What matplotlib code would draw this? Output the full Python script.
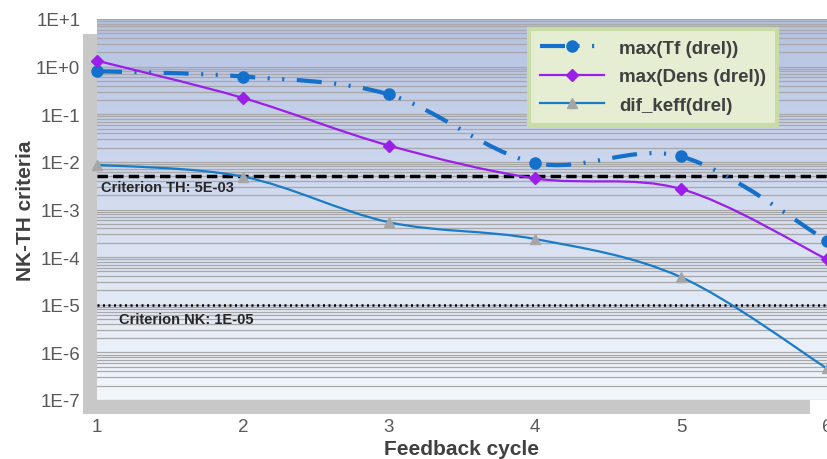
import numpy as np
import matplotlib
matplotlib.use('Agg')
import matplotlib.pyplot as plt
from matplotlib.path import Path
from matplotlib.patches import PathPatch, Rectangle
from matplotlib.lines import Line2D
from matplotlib.ticker import FuncFormatter, LogLocator

cycles = [1, 2, 3, 4, 5, 6]
tf_drel = [0.8, 0.62, 0.26, 0.0095, 0.013, 2.2e-4]
dens_drel = [1.33, 0.22, 0.022, 0.0045, 0.0027, 9e-5]
keff_drel = [0.0087, 0.0049, 5.4e-4, 2.4e-4, 3.8e-5, 4.6e-7]
crit_th = 5e-3
crit_nk = 1e-5

plt.rcParams['font.family'] = ['Liberation Sans', 'DejaVu Sans']


def SmoothPath(xs, ys):
    # bezier curve through the points, built in log space (like excel smoothing)
    lx = np.array(xs, dtype=float)
    ly = np.log10(np.array(ys, dtype=float))
    n = len(lx)
    verts = [(lx[0], ly[0])]
    codes = [Path.MOVETO]
    for i in range(n - 1):
        p0 = (lx[max(i - 1, 0)], ly[max(i - 1, 0)])
        p1 = (lx[i], ly[i])
        p2 = (lx[i + 1], ly[i + 1])
        p3 = (lx[min(i + 2, n - 1)], ly[min(i + 2, n - 1)])
        c1 = (p1[0] + (p2[0] - p0[0]) / 6, p1[1] + (p2[1] - p0[1]) / 6)
        c2 = (p2[0] - (p3[0] - p1[0]) / 6, p2[1] - (p3[1] - p1[1]) / 6)
        verts += [c1, c2, p2]
        codes += [Path.CURVE4] * 3
    verts = [(v[0], 10 ** v[1]) for v in verts]
    return Path(verts, codes)


fig = plt.figure(figsize=(8.27, 4.6), dpi=100)
W, H = 827, 460
left, right, top, bottom = 97, 827, 20, 401
pos = [left / W, 1 - bottom / H, (right - left) / W, (bottom - top) / H]

# drop shadow behind the plot area
shadow = fig.add_axes([83 / W, 1 - 415 / H, (810 - 83) / W, (415 - 35) / H], zorder=-2)
shadow.axis('off')
shadow.add_patch(Rectangle((0, 0), 1, 1, transform=shadow.transAxes, color='#C8C8C8'))

bg = fig.add_axes(pos, zorder=0)
grad = np.linspace(0, 1, 256).reshape(-1, 1, 1)
top_c = np.array([0.71, 0.76, 0.89])
bot_c = np.array([0.95, 0.97, 0.99])
img = top_c + grad * (bot_c - top_c)
bg.imshow(img, aspect='auto', extent=[0, 1, 0, 1])
bg.axis('off')

ax = fig.add_axes(pos, zorder=1)
ax.patch.set_alpha(0)
ax.set_yscale('log')
ax.set_xlim(1, 6)
ax.set_ylim(1e-7, 10)

ax.yaxis.set_major_locator(LogLocator(base=10, numticks=20))
ax.yaxis.set_minor_locator(LogLocator(base=10, subs=np.arange(2, 10), numticks=20))
ax.grid(True, which='both', axis='y', color='#A8A8A8', lw=0.9)
ax.set_axisbelow(True)
for s in ax.spines.values():
    s.set_visible(False)


def fmt(v, p):
    e = int(round(np.log10(v)))
    return '1E+%d' % e if e >= 0 else '1E%d' % e


ax.yaxis.set_major_formatter(FuncFormatter(fmt))
ax.set_xticks(cycles)
ax.tick_params(axis='both', which='both', length=0, labelsize=13.5, labelcolor='#595959')
ax.tick_params(axis='x', pad=13)
ax.tick_params(axis='y', pad=12)

ax.axhline(crit_th, color='black', lw=2.5, ls=(0, (3, 1.5)), zorder=3)
ax.axhline(crit_nk, color='black', lw=1.8, ls=(0, (0.8, 1.4)), zorder=3)
ax.text(1.03, crit_th * 0.58, 'Criterion TH: 5E-03', fontsize=10.5, fontweight='bold',
        color='#262626', family=['Liberation Sans Narrow', 'Liberation Sans'], va='center')
ax.text(1.15, crit_nk * 0.5, 'Criterion NK: 1E-05', fontsize=10.5, fontweight='bold',
        color='#262626', family=['Liberation Sans Narrow', 'Liberation Sans'], va='center')

tf_col = '#1570CC'
dens_col = '#9B1FE8'
keff_col = '#1A7CC6'
tf_ls = (0, (6, 3, 0.5, 3, 0.5, 3))

ax.add_patch(PathPatch(SmoothPath(cycles, tf_drel), fill=False, ec=tf_col, lw=3,
                       ls=tf_ls, zorder=4, clip_on=False))
ax.add_patch(PathPatch(SmoothPath(cycles, dens_drel), fill=False, ec=dens_col, lw=1.6,
                       zorder=4, clip_on=False))
ax.add_patch(PathPatch(SmoothPath(cycles, keff_drel), fill=False, ec=keff_col, lw=1.6,
                       zorder=4, clip_on=False))
ax.plot(cycles, tf_drel, ls='none', marker='o', ms=8, color=tf_col, zorder=5, clip_on=False)
ax.plot(cycles, dens_drel, ls='none', marker='D', ms=6.5, color=dens_col, zorder=5, clip_on=False)
ax.plot(cycles, keff_drel, ls='none', marker='^', ms=7, color='#A6A6A6', zorder=5, clip_on=False)

handles = [Line2D([], [], color=tf_col, lw=3, ls=tf_ls, marker='o', ms=8),
           Line2D([], [], color=dens_col, lw=1.6, marker='D', ms=6.5),
           Line2D([], [], color=keff_col, lw=1.6, marker='^', ms=7, mfc='#A6A6A6', mec='#A6A6A6')]
labels = ['max(Tf (drel))', 'max(Dens (drel))', 'dif_keff(drel)']
leg = ax.legend(handles, labels, loc='upper left', bbox_to_anchor=(0.592, 0.975),
                borderaxespad=0, frameon=True, fancybox=False, facecolor='#E5EDD2',
                edgecolor='#C8DCA8', framealpha=1, prop={'weight': 'bold', 'size': 13.5},
                labelcolor='#404040', handlelength=3.4, borderpad=0.6, labelspacing=0.6)
leg.get_frame().set_linewidth(3)
leg.set_zorder(6)

ax.set_ylabel('NK-TH criteria', fontsize=15, fontweight='bold', color='#404040', labelpad=1)
ax.set_xlabel('Feedback cycle', fontsize=15, fontweight='bold', color='#404040', labelpad=3)

fig.savefig('out.png', dpi=100)
